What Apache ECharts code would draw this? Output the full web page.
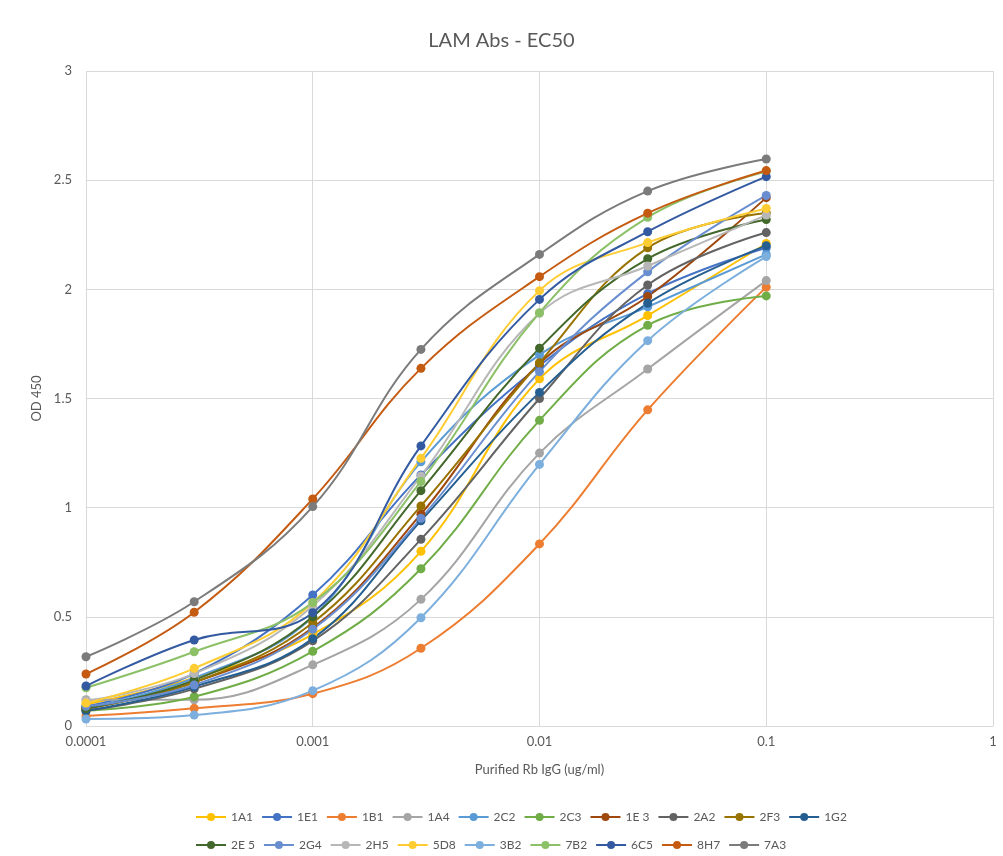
<!DOCTYPE html>
<html lang="en" style="height: 100%">

<head>
    <meta charset="utf-8">
</head>

<body style="height: 100%; margin: 0; background: #ffffff;">
    <div id="container" style="width: 1003px; height: 856px"></div>

    <script type="text/javascript" src="https://cdn.jsdelivr.net/npm/echarts@6/dist/echarts.min.js"></script>
    <script type="text/javascript">
        // dilutions (ug/ml)
        var concentrations = [0.0001, 0.0003, 0.001, 0.003, 0.01, 0.03, 0.1];

        var names = ['1A1', '1E1', '1B1', '1A4', '2C2', '2C3', '1E 3', '2A2', '2F3', '1G2',
            '2E 5', '2G4', '2H5', '5D8', '3B2', '7B2', '6C5', '8H7', '7A3'];

        // OD 450 readings, one array per clone
        var v1A1 = [0.10, 0.22, 0.42, 0.80, 1.59, 1.88, 2.21];
        var v1E1 = [0.09, 0.24, 0.60, 1.15, 1.65, 1.98, 2.19];
        var v1B1 = [0.046, 0.081, 0.148, 0.356, 0.834, 1.448, 2.01];
        var v1A4 = [0.12, 0.12, 0.28, 0.58, 1.25, 1.635, 2.04];
        var v2C2 = [0.08, 0.22, 0.50, 1.21, 1.70, 1.92, 2.16];
        var v2C3 = [0.07, 0.134, 0.342, 0.72, 1.40, 1.835, 1.97];
        var v1E3 = [0.08, 0.20, 0.45, 0.97, 1.66, 1.967, 2.42];
        var v2A2 = [0.07, 0.17, 0.39, 0.855, 1.50, 2.02, 2.26];
        var v2F3 = [0.08, 0.20, 0.473, 1.008, 1.664, 2.19, 2.35];
        var v1G2 = [0.07, 0.18, 0.40, 0.94, 1.528, 1.936, 2.20];
        var v2E5 = [0.08, 0.21, 0.50, 1.078, 1.73, 2.14, 2.32];
        var v2G4 = [0.09, 0.188, 0.443, 0.951, 1.623, 2.08, 2.43];
        var v2H5 = [0.115, 0.24, 0.55, 1.145, 1.89, 2.107, 2.34];
        var v5D8 = [0.105, 0.264, 0.565, 1.226, 1.994, 2.214, 2.37];
        var v3B2 = [0.032, 0.05, 0.162, 0.496, 1.198, 1.765, 2.15];
        var v7B2 = [0.175, 0.34, 0.565, 1.12, 1.893, 2.33, 2.54];
        var v6C5 = [0.183, 0.394, 0.519, 1.283, 1.954, 2.264, 2.516];
        var v8H7 = [0.238, 0.521, 1.04, 1.638, 2.058, 2.349, 2.544];
        var v7A3 = [0.317, 0.569, 1.005, 1.725, 2.16, 2.45, 2.597];

        var values = [v1A1, v1E1, v1B1, v1A4, v2C2, v2C3, v1E3, v2A2, v2F3, v1G2,
            v2E5, v2G4, v2H5, v5D8, v3B2, v7B2, v6C5, v8H7, v7A3];

        var colors = ['#FFC000', '#4472C4', '#ED7D31', '#A5A5A5', '#5B9BD5', '#70AD47',
            '#9E480E', '#636363', '#997300', '#255E91', '#43682B', '#698ED0', '#B7B7B7',
            '#FFCD33', '#7CAFDD', '#8CC168', '#335AA1', '#C55A11', '#7B7B7B'];

        var fontName = 'Lato';
        var textGray = '#595959';

        var dom = document.getElementById('container');
        var myChart = echarts.init(dom, null, { renderer: 'canvas' });

        var series = names.map(function (n, i) {
            return {
                name: n,
                type: 'line',
                smooth: 0.4,
                symbol: 'circle',
                symbolSize: 9,
                color: colors[i],
                lineStyle: { width: 2 },
                data: concentrations.map(function (c, j) {
                    return [c, values[i][j]];
                })
            };
        });

        var option = {
            animation: false,
            textStyle: { fontFamily: fontName },
            title: {
                text: 'LAM Abs - EC50',
                left: 'center',
                top: 26,
                textStyle: {
                    color: textGray,
                    fontSize: 20,
                    fontWeight: 'normal',
                    fontFamily: fontName
                }
            },
            grid: {
                left: 86,
                right: 10,
                top: 71,
                bottom: 130
            },
            legend: {
                data: names,
                left: 190,
                top: 802,
                width: 664,
                itemWidth: 30,
                itemHeight: 10,
                itemGap: 8,
                textStyle: {
                    color: textGray,
                    fontSize: 12,
                    lineHeight: 20,
                    fontFamily: fontName
                }
            },
            xAxis: {
                type: 'log',
                logBase: 10,
                min: 0.0001,
                max: 1,
                name: 'Purified Rb IgG (ug/ml)',
                nameLocation: 'middle',
                nameGap: 37,
                nameTextStyle: { color: textGray, fontSize: 13 },
                axisLine: { show: true, lineStyle: { color: '#d9d9d9' } },
                axisTick: { show: false },
                axisLabel: {
                    color: textGray,
                    fontSize: 13,
                    margin: 9,
                    formatter: function (v) {
                        return String(Number(v.toPrecision(1)));
                    }
                },
                splitLine: { show: true, lineStyle: { color: '#d9d9d9' } }
            },
            yAxis: {
                type: 'value',
                min: 0,
                max: 3,
                interval: 0.5,
                name: 'OD 450',
                nameLocation: 'middle',
                nameGap: 42,
                nameTextStyle: { color: textGray, fontSize: 13 },
                axisLine: { show: false },
                axisTick: { show: false },
                axisLabel: { color: textGray, fontSize: 13, margin: 14 },
                splitLine: { show: true, lineStyle: { color: '#d9d9d9' } }
            },
            series: series
        };

        myChart.setOption(option);
        window.addEventListener('resize', myChart.resize);
    </script>
</body>

</html>
